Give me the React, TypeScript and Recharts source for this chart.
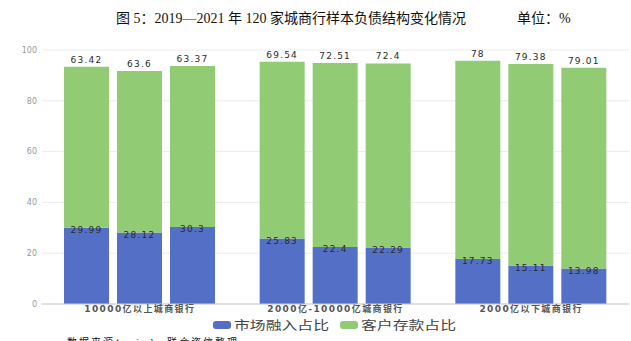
import React from "react";
import { BarChart, Bar, XAxis, YAxis, CartesianGrid, LabelList } from "recharts";

const categories = ["10000亿以上城商银行", "2000亿-10000亿城商银行", "2000亿以下城商银行"];
const market2019 = [29.99, 25.83, 17.73];
const market2020 = [28.12, 22.4, 15.11];
const market2021 = [30.3, 22.29, 13.98];
const deposit2019 = [63.42, 69.54, 78];
const deposit2020 = [63.6, 72.51, 79.38];
const deposit2021 = [63.37, 72.4, 79.01];
const yTicks = [0, 20, 40, 60, 80, 100];
const seriesNames = ["市场融入占比", "客户存款占比"];

const data = categories.map((c, i) => ({
  name: c,
  m0: market2019[i],
  d0: deposit2019[i],
  m1: market2020[i],
  d1: deposit2020[i],
  m2: market2021[i],
  d2: deposit2021[i],
}));

const BLUE = "#5470c6";
const GREEN = "#91cc75";
const LABEL_FONT = "'DejaVu Sans', 'Noto Sans CJK SC', sans-serif";

const labelStyle = {
  fontSize: 9,
  fill: "#2a2a2a",
  fontFamily: LABEL_FONT,
  letterSpacing: 1.2,
};

const XTick = (props: any) => {
  const { x, y, payload } = props;
  return (
    <text
      x={x}
      y={y}
      dy={8}
      textAnchor="middle"
      fontSize={9}
      fontWeight={700}
      fill="#555"
      fontFamily={LABEL_FONT}
      letterSpacing={1.4}
    >
      {payload.value}
    </text>
  );
};

export default function App() {
  const years = [0, 1, 2];
  return (
    <div
      style={{
        position: "absolute",
        left: 0,
        top: 0,
        width: 631,
        height: 341,
        overflow: "hidden",
        background: "#fff",
      }}
    >
      <div
        style={{
          position: "absolute",
          left: 116,
          top: 10,
          fontSize: 14,
          lineHeight: "18px",
          whiteSpace: "nowrap",
          color: "#111",
          fontFamily: "'Liberation Serif', 'Noto Sans CJK SC', serif",
        }}
      >
        图 5：2019—2021 年 120 家城商行样本负债结构变化情况
      </div>
      <div
        style={{
          position: "absolute",
          left: 517,
          top: 10,
          fontSize: 14,
          lineHeight: "18px",
          whiteSpace: "nowrap",
          color: "#111",
          fontFamily: "'Liberation Serif', 'Noto Sans CJK SC', serif",
        }}
      >
        单位：%
      </div>
      <div style={{ position: "absolute", left: 0, top: 0 }}>
        <BarChart
          width={631}
          height={341}
          data={data}
          margin={{ top: 50, right: 2, left: 0, bottom: 17 }}
          barSize={45}
          barGap={8}
        >
          <CartesianGrid vertical={false} stroke="#ececec" />
          <YAxis
            domain={[0, 100]}
            ticks={yTicks}
            width={42}
            axisLine={false}
            tickLine={false}
            tickSize={4}
            tickMargin={1}
            tick={{ fontSize: 8, fill: "#999", fontFamily: LABEL_FONT }}
          />
          <XAxis
            dataKey="name"
            height={20}
            axisLine={{ stroke: "#ccc" }}
            tickLine={false}
            tickSize={0}
            tickMargin={0}
            tick={<XTick />}
            interval={0}
          />
          {years.map((k) => [
            <Bar
              key={`m${k}`}
              dataKey={`m${k}`}
              name={seriesNames[0]}
              stackId={`s${k}`}
              fill={BLUE}
              isAnimationActive={false}
            >
              <LabelList dataKey={`m${k}`} position="insideTop" offset={-1} style={labelStyle} />
            </Bar>,
            <Bar
              key={`d${k}`}
              dataKey={`d${k}`}
              name={seriesNames[1]}
              stackId={`s${k}`}
              fill={GREEN}
              isAnimationActive={false}
            >
              <LabelList dataKey={`d${k}`} position="top" offset={4} style={labelStyle} />
            </Bar>,
          ])}
        </BarChart>
      </div>
      {/* legend */}
      <div style={{ position: "absolute", left: 213, top: 321, width: 18, height: 8, borderRadius: 3, background: BLUE }} />
      <div
        style={{
          position: "absolute",
          left: 234,
          top: 317,
          fontSize: 12,
          lineHeight: "16px",
          color: "#444",
          whiteSpace: "nowrap",
          fontFamily: "'Noto Sans CJK SC', sans-serif",
          transform: "scaleX(1.32)",
          transformOrigin: "left center",
        }}
      >
        {seriesNames[0]}
      </div>
      <div style={{ position: "absolute", left: 340, top: 321, width: 18, height: 8, borderRadius: 3, background: GREEN }} />
      <div
        style={{
          position: "absolute",
          left: 361,
          top: 317,
          fontSize: 12,
          lineHeight: "16px",
          color: "#444",
          whiteSpace: "nowrap",
          fontFamily: "'Noto Sans CJK SC', sans-serif",
          transform: "scaleX(1.32)",
          transformOrigin: "left center",
        }}
      >
        {seriesNames[1]}
      </div>
      <div
        style={{
          position: "absolute",
          left: 67,
          top: 336,
          fontSize: 10,
          lineHeight: "14px",
          letterSpacing: 2,
          color: "#111",
          whiteSpace: "nowrap",
          fontFamily: "'Liberation Serif', 'Noto Sans CJK SC', serif",
        }}
      >
        数据来源：wind，联合资信整理
      </div>
    </div>
  );
}
